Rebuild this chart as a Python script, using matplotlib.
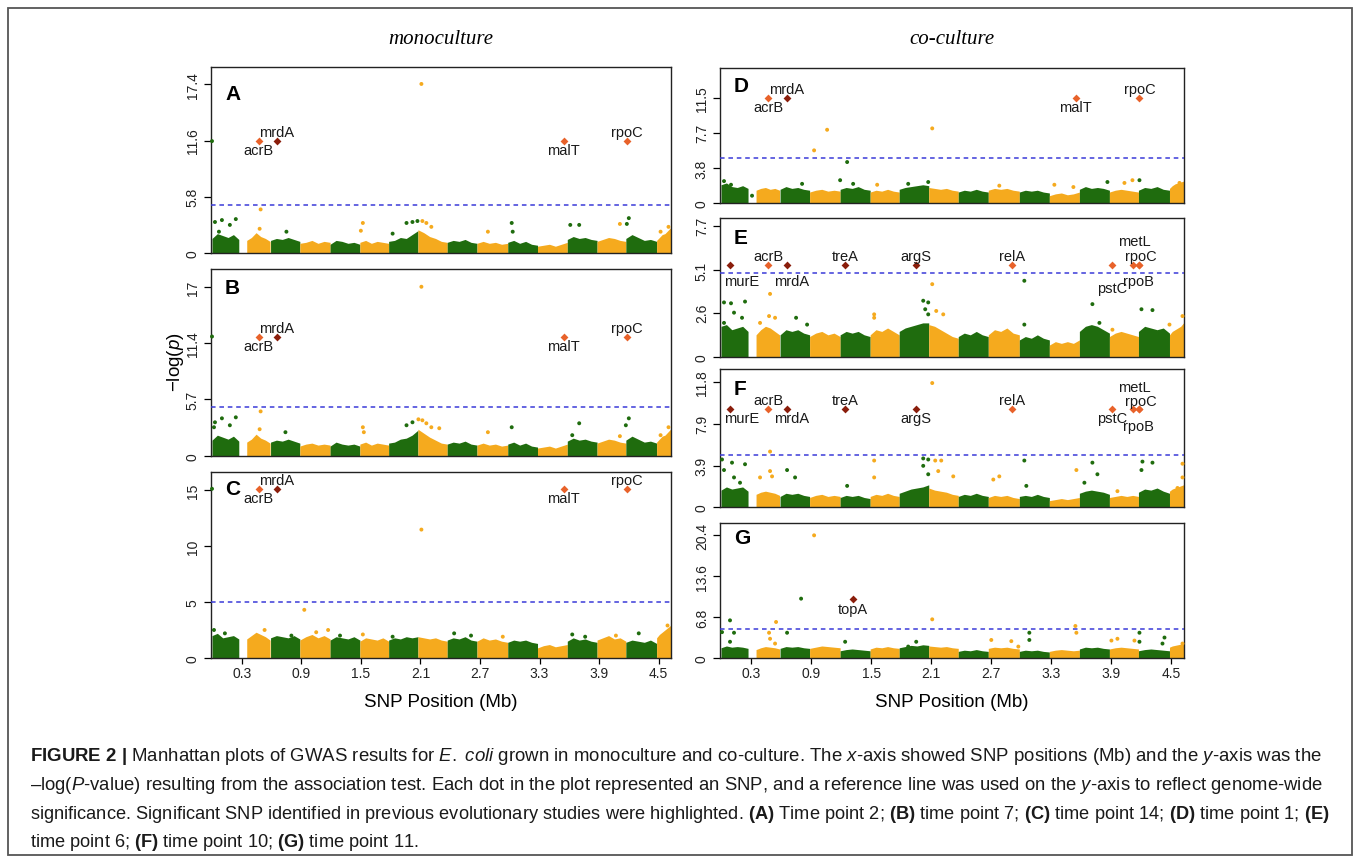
import numpy as np
import matplotlib
matplotlib.use("Agg")
import matplotlib.pyplot as plt
from matplotlib.patches import Rectangle
from matplotlib import font_manager

W, H = 1357, 862

installed = {f.name for f in font_manager.fontManager.ttflist}
cap_font = 'Liberation Sans Narrow' if 'Liberation Sans Narrow' in installed else 'Liberation Sans'

plt.rcParams['font.family'] = ['Liberation Sans', 'DejaVu Sans']
plt.rcParams['mathtext.fontset'] = 'custom'
plt.rcParams['mathtext.rm'] = cap_font
plt.rcParams['mathtext.it'] = cap_font + ':italic'
plt.rcParams['mathtext.bf'] = cap_font + ':bold'

GREEN = '#1f6c0e'
ORANGE = '#f5aa1e'
HL_LIGHT = '#e8622a'
HL_DARK = '#8a1d0b'

# SNP blocks along the genome (Mb), alternating green / orange
seg_start = [0.0, 0.35, 0.59, 0.885, 1.19, 1.49, 1.78, 2.075, 2.37, 2.67, 2.98, 3.28, 3.58, 3.88, 4.17, 4.48]
seg_end = [0.27, 0.585, 0.885, 1.19, 1.49, 1.78, 2.075, 2.37, 2.67, 2.98, 3.28, 3.58, 3.88, 4.17, 4.48, 4.62]

# upper envelope of the dense SNP cloud, 6 heights per block
env_A = [[1.5, 2.0, 1.8, 1.6, 1.9, 1.4], [1.3, 1.6, 2.1, 1.7, 1.5, 1.2], [1.3, 1.5, 1.4, 1.6, 1.4, 1.2],
         [1.0, 1.1, 1.3, 1.0, 1.2, 1.1], [0.9, 1.3, 1.2, 1.0, 1.1, 0.9], [1.1, 1.3, 1.0, 1.2, 1.1, 1.0],
         [1.2, 1.3, 1.6, 1.5, 1.9, 2.3], [2.4, 2.1, 1.7, 1.5, 1.2, 1.1], [1.1, 1.3, 1.2, 1.4, 1.1, 1.0],
         [1.0, 1.2, 1.0, 1.1, 0.9, 1.0], [1.1, 1.3, 1.0, 1.2, 0.9, 0.8], [0.7, 0.8, 0.9, 0.7, 0.9, 1.1],
         [1.4, 1.7, 1.5, 1.6, 1.4, 1.3], [1.2, 1.4, 1.6, 1.5, 1.3, 1.2], [1.5, 1.9, 1.6, 1.3, 1.4, 1.2],
         [1.3, 1.6, 1.9, 2.0, 2.3, 2.6]]
env_B = [[1.6, 2.1, 1.9, 1.7, 2.0, 1.5], [1.4, 1.7, 2.2, 1.8, 1.6, 1.3], [1.4, 1.6, 1.5, 1.7, 1.5, 1.3],
         [1.0, 1.2, 1.3, 1.1, 1.2, 1.1], [1.0, 1.4, 1.2, 1.1, 1.2, 1.0], [1.2, 1.4, 1.1, 1.3, 1.2, 1.1],
         [1.3, 1.4, 1.7, 1.8, 2.1, 2.6], [2.7, 2.3, 1.9, 1.6, 1.3, 1.2], [1.2, 1.4, 1.3, 1.5, 1.2, 1.1],
         [1.1, 1.3, 1.1, 1.2, 1.0, 1.1], [1.2, 1.4, 1.1, 1.3, 1.0, 0.9], [0.8, 0.9, 1.0, 0.8, 1.0, 1.2],
         [1.5, 1.8, 1.6, 1.7, 1.5, 1.4], [1.3, 1.5, 1.7, 1.6, 1.4, 1.3], [1.6, 2.0, 1.7, 1.4, 1.5, 1.3],
         [1.4, 1.7, 2.0, 2.1, 2.4, 2.7]]
env_C = [[2.0, 2.2, 1.8, 1.9, 2.0, 1.7], [1.7, 2.0, 2.3, 2.1, 1.9, 1.6], [1.8, 2.0, 1.9, 1.8, 2.0, 1.7],
         [1.6, 1.9, 2.1, 1.8, 2.0, 1.7], [1.6, 1.9, 1.8, 1.7, 1.9, 1.6], [1.5, 1.8, 1.7, 1.6, 1.8, 1.5],
         [1.6, 1.8, 1.7, 1.9, 1.8, 1.9], [1.9, 1.8, 1.7, 1.8, 1.6, 1.5], [1.6, 1.8, 1.7, 1.9, 1.6, 1.5],
         [1.5, 1.8, 1.6, 1.7, 1.5, 1.4], [1.4, 1.6, 1.5, 1.6, 1.4, 1.3], [0.9, 1.1, 1.2, 1.0, 1.1, 1.2],
         [1.5, 1.8, 1.6, 1.7, 1.5, 1.4], [1.6, 1.8, 2.0, 1.7, 1.8, 1.5], [1.4, 1.6, 1.5, 1.4, 1.6, 1.3],
         [1.8, 2.1, 2.3, 2.5, 2.7, 2.9]]
env_D = [[2.0, 2.2, 1.8, 1.7, 1.9, 1.6], [1.4, 1.6, 1.7, 1.5, 1.6, 1.4], [1.5, 1.8, 1.6, 1.7, 1.5, 1.4],
         [1.2, 1.4, 1.5, 1.3, 1.4, 1.3], [1.5, 1.7, 1.6, 1.8, 1.5, 1.4], [1.2, 1.4, 1.3, 1.5, 1.3, 1.2],
         [1.5, 1.7, 1.8, 1.9, 2.0, 1.9], [1.7, 1.6, 1.5, 1.6, 1.4, 1.3], [1.2, 1.4, 1.3, 1.5, 1.3, 1.2],
         [1.4, 1.6, 1.5, 1.6, 1.4, 1.3], [1.2, 1.4, 1.3, 1.4, 1.2, 1.1], [0.8, 1.0, 1.1, 0.9, 1.0, 1.2],
         [1.5, 1.8, 1.6, 1.7, 1.6, 1.4], [1.2, 1.4, 1.5, 1.4, 1.3, 1.2], [1.4, 1.7, 1.6, 1.8, 1.5, 1.4],
         [1.6, 1.9, 2.1, 2.2, 2.3, 2.4]]
env_E = [[1.8, 1.9, 1.6, 1.7, 1.8, 1.5], [1.3, 1.6, 1.8, 1.7, 1.5, 1.3], [1.3, 1.6, 1.5, 1.6, 1.4, 1.3],
         [1.2, 1.4, 1.5, 1.3, 1.4, 1.2], [1.3, 1.5, 1.4, 1.5, 1.3, 1.2], [1.3, 1.6, 1.5, 1.7, 1.5, 1.3],
         [1.5, 1.7, 1.8, 1.9, 2.0, 2.0], [1.9, 1.8, 1.6, 1.4, 1.2, 1.1], [1.2, 1.4, 1.3, 1.5, 1.3, 1.2],
         [1.3, 1.6, 1.5, 1.7, 1.4, 1.3], [1.0, 1.2, 1.1, 1.3, 1.1, 1.0], [0.7, 0.9, 0.8, 0.9, 0.8, 1.0],
         [1.5, 1.8, 1.9, 1.8, 1.6, 1.4], [1.2, 1.4, 1.5, 1.4, 1.3, 1.2], [1.5, 1.8, 1.7, 1.6, 1.7, 1.4],
         [1.3, 1.5, 1.6, 1.7, 1.8, 2.0]]
env_F = [[1.6, 1.9, 1.7, 1.8, 1.9, 1.5], [1.2, 1.4, 1.5, 1.4, 1.3, 1.1], [1.0, 1.3, 1.2, 1.3, 1.1, 1.0],
         [0.9, 1.1, 1.2, 1.0, 1.1, 1.0], [0.9, 1.1, 1.0, 1.1, 0.9, 0.8], [1.0, 1.2, 1.1, 1.3, 1.1, 1.0],
         [1.3, 1.5, 1.7, 1.8, 1.9, 2.1], [1.8, 1.6, 1.5, 1.4, 1.2, 1.1], [1.0, 1.2, 1.1, 1.3, 1.1, 1.0],
         [0.9, 1.1, 1.0, 1.1, 0.9, 0.8], [1.0, 1.1, 1.0, 1.2, 1.0, 0.9], [0.6, 0.7, 0.8, 0.7, 0.8, 0.9],
         [1.3, 1.5, 1.6, 1.5, 1.4, 1.2], [0.9, 1.0, 1.1, 1.0, 1.1, 1.0], [1.4, 1.7, 1.6, 1.8, 1.5, 1.3],
         [1.5, 1.7, 1.8, 1.9, 2.0, 2.1]]
env_G = [[1.7, 2.0, 1.8, 1.9, 1.8, 1.6], [1.4, 1.7, 1.9, 1.8, 1.7, 1.5], [1.6, 1.9, 1.8, 1.9, 1.7, 1.6],
         [1.6, 1.8, 2.0, 1.9, 1.8, 1.7], [1.2, 1.4, 1.5, 1.4, 1.3, 1.2], [1.5, 1.8, 1.7, 1.9, 1.7, 1.6],
         [1.7, 1.9, 2.1, 2.0, 2.2, 2.1], [2.0, 1.9, 1.8, 1.9, 1.7, 1.6], [1.1, 1.3, 1.2, 1.4, 1.2, 1.1],
         [1.6, 1.8, 1.7, 1.8, 1.6, 1.5], [1.1, 1.3, 1.2, 1.3, 1.1, 1.0], [1.1, 1.3, 1.4, 1.3, 1.2, 1.3],
         [1.5, 1.8, 1.7, 1.8, 1.6, 1.5], [1.5, 1.7, 1.8, 1.7, 1.6, 1.5], [1.2, 1.4, 1.5, 1.4, 1.3, 1.2],
         [1.8, 2.0, 2.1, 2.2, 2.3, 2.4]]

# individual SNPs standing out of the cloud (position Mb, -log p)
snp_A_x = [0.0, 0.03, 0.10, 0.24, 0.07, 0.18, 0.49, 0.48, 0.75, 1.52, 1.50, 1.82, 1.96, 2.02, 2.07, 2.11, 2.12,
           2.16, 2.21, 2.78, 3.02, 3.03, 3.61, 3.70, 4.11, 4.20, 4.18, 4.52, 4.60]
snp_A_y = [11.55, 3.2, 3.4, 3.5, 2.2, 2.9, 4.5, 2.5, 2.2, 3.1, 2.3, 2.0, 3.1, 3.2, 3.3, 17.45, 3.3,
           3.1, 2.7, 2.2, 3.1, 2.2, 2.9, 2.9, 3.0, 3.6, 3.0, 2.2, 2.7]
snp_B_x = [0.0, 0.03, 0.10, 0.24, 0.18, 0.02, 0.49, 0.48, 0.74, 1.52, 1.53, 1.96, 2.02, 2.08, 2.11, 2.12, 2.16,
           2.21, 2.29, 2.78, 3.02, 3.70, 3.63, 4.11, 4.20, 4.17, 4.60, 4.52]
snp_B_y = [12.05, 3.4, 3.8, 3.9, 3.1, 2.9, 4.5, 2.7, 2.4, 2.9, 2.4, 3.1, 3.4, 3.7, 17.07, 3.6, 3.3,
           2.9, 2.8, 2.4, 2.9, 3.3, 2.1, 2.0, 3.8, 3.1, 2.9, 2.1]
snp_C_x = [0.0, 0.02, 0.13, 0.53, 0.80, 0.93, 1.05, 1.17, 1.29, 1.52, 1.82, 2.11, 2.44, 2.61, 2.93, 3.63, 3.76,
           4.07, 4.30, 4.59]
snp_C_y = [15.1, 2.5, 2.2, 2.5, 2.0, 4.3, 2.3, 2.5, 2.0, 2.1, 1.9, 11.46, 2.2, 2.0, 1.9, 2.1, 1.9,
           2.0, 2.2, 2.9]
snp_D_x = [0.03, 0.10, 0.31, 0.81, 0.93, 1.06, 1.19, 1.26, 1.32, 1.56, 1.87, 2.07, 2.11, 2.78, 3.33, 3.52,
           3.86, 4.03, 4.11, 4.18, 4.58]
snp_D_y = [2.4, 2.0, 0.8, 2.1, 5.77, 8.03, 2.5, 4.49, 2.1, 2.0, 2.1, 2.3, 8.18, 1.9, 2.0, 1.75,
           2.3, 2.2, 2.5, 2.5, 2.2]
snp_E_x = [0.03, 0.10, 0.24, 0.13, 0.03, 0.21, 0.49, 0.48, 0.54, 0.39, 0.75, 0.86, 1.53, 1.53, 2.02, 2.07,
           2.04, 2.07, 2.11, 2.15, 2.22, 3.03, 3.03, 3.71, 3.78, 3.91, 4.20, 4.31, 4.48, 4.61]
snp_E_y = [3.2, 3.15, 3.25, 2.6, 2.0, 2.3, 3.7, 2.4, 2.3, 2.0, 2.3, 1.9, 2.5, 2.3, 3.3, 3.2,
           2.8, 2.5, 4.27, 2.7, 2.5, 4.47, 1.9, 3.1, 2.0, 1.6, 2.8, 2.75, 1.9, 2.4]
snp_F_x = [0.01, 0.03, 0.11, 0.24, 0.13, 0.19, 0.49, 0.49, 0.39, 0.51, 0.66, 0.74, 1.53, 1.53, 1.26, 2.02,
           2.07, 2.02, 2.11, 2.14, 2.20, 2.17, 2.07, 2.32, 2.72, 2.78, 3.03, 3.05, 3.55, 3.71, 3.76, 3.63,
           3.96, 4.20, 4.21, 4.31, 4.61, 4.61, 4.56]
snp_F_y = [4.5, 3.5, 4.2, 4.05, 2.8, 2.3, 5.25, 3.4, 2.8, 2.9, 3.5, 2.8, 4.4, 2.8, 2.0, 4.6,
           4.5, 3.9, 11.74, 4.4, 4.4, 3.4, 3.1, 2.9, 2.6, 2.9, 4.4, 2.0, 3.5, 4.2, 3.1, 2.3,
           1.5, 3.5, 4.3, 4.2, 4.1, 2.8, 1.8]
snp_G_x = [0.01, 0.09, 0.13, 0.09, 0.48, 0.49, 0.54, 0.55, 0.66, 0.80, 0.93, 1.24, 1.87, 1.95, 2.11, 2.70,
           2.90, 2.97, 3.08, 3.08, 3.54, 3.55, 3.90, 3.96, 4.13, 4.18, 4.18, 4.43, 4.41, 4.61]
snp_G_y = [4.3, 6.26, 4.2, 2.7, 4.2, 3.2, 2.4, 5.99, 4.2, 9.87, 20.4, 2.7, 1.9, 2.7, 6.43, 3.0,
           2.8, 1.9, 4.2, 3.0, 5.32, 4.2, 2.9, 3.2, 2.9, 4.2, 2.7, 3.4, 2.4, 2.4]

# genes highlighted in earlier evolution studies (position Mb)
gene_pos = {'murE': 0.088, 'acrB': 0.47, 'mrdA': 0.655, 'treA': 1.24, 'topA': 1.32, 'argS': 1.95,
            'relA': 2.905, 'malT': 3.545, 'pstC': 3.91, 'metL': 4.12, 'rpoB': 4.18, 'rpoC': 4.18}
dark_genes = ['murE', 'mrdA', 'treA', 'argS', 'topA']

genes_ABCD = ['acrB', 'mrdA', 'malT', 'rpoC']
genes_EF = ['murE', 'acrB', 'mrdA', 'treA', 'argS', 'relA', 'pstC', 'metL', 'rpoB', 'rpoC']
genes_G = ['topA']
gene_y = {'A': 11.55, 'B': 12.05, 'C': 15.1, 'D': 11.5, 'E': 5.41, 'F': 9.27, 'G': 9.87}

ymax = {'A': 19.2, 'B': 18.86, 'C': 16.6, 'D': 14.8, 'E': 8.15, 'F': 13.07, 'G': 22.45}
yticks = {'A': [0, 5.8, 11.6, 17.4], 'B': [0, 5.7, 11.4, 17], 'C': [0, 5, 10, 15],
          'D': [0, 3.8, 7.7, 11.5], 'E': [0, 2.6, 5.1, 7.7], 'F': [0, 3.9, 7.9, 11.8],
          'G': [0, 6.8, 13.6, 20.4]}
threshold = {'A': 4.93, 'B': 4.93, 'C': 5.0, 'D': 4.96, 'E': 4.92, 'F': 4.94, 'G': 4.88}
xtick_vals = [0.3, 0.9, 1.5, 2.1, 2.7, 3.3, 3.9, 4.5]

# label placement (pixel offsets dx, dy from the marker)
lab_off = {
    'A': {'acrB': (0, -9), 'mrdA': (0, 9), 'malT': (0, -9), 'rpoC': (0, 9)},
    'E': {'murE': (12, -16), 'acrB': (0, 9), 'mrdA': (5, -16), 'treA': (0, 9), 'argS': (0, 9),
          'relA': (0, 9), 'pstC': (0, -23), 'metL': (1, 24), 'rpoB': (-1, -16), 'rpoC': (1, 9)},
    'F': {'murE': (12, -9), 'acrB': (0, 9), 'mrdA': (5, -9), 'treA': (0, 9), 'argS': (0, -9),
          'relA': (0, 9), 'pstC': (0, -9), 'metL': (1, 22), 'rpoB': (-1, -17), 'rpoC': (1, 8)},
    'G': {'topA': (0, -10)},
}
lab_off['B'] = lab_off['A']
lab_off['C'] = lab_off['A']
lab_off['D'] = lab_off['A']


def px_rect(x0, y0, x1, y1):
    return [x0 / W, 1 - y1 / H, (x1 - x0) / W, (y1 - y0) / H]


panels = [
    ('A', px_rect(211, 68, 671, 254), env_A, snp_A_x, snp_A_y, genes_ABCD, False, 26),
    ('B', px_rect(211, 270, 671, 457), env_B, snp_B_x, snp_B_y, genes_ABCD, False, 18),
    ('C', px_rect(211, 473, 671, 659), env_C, snp_C_x, snp_C_y, genes_ABCD, True, 17),
    ('D', px_rect(720, 69, 1184, 204), env_D, snp_D_x, snp_D_y, genes_ABCD, False, 17),
    ('E', px_rect(720, 219, 1184, 358), env_E, snp_E_x, snp_E_y, genes_EF, False, 19),
    ('F', px_rect(720, 370, 1184, 508), env_F, snp_F_x, snp_F_y, genes_EF, False, 20),
    ('G', px_rect(720, 524, 1184, 659), env_G, snp_G_x, snp_G_y, genes_G, True, 14),
]


def block_color(x):
    i = np.searchsorted(seg_start, x, side='right') - 1
    return GREEN if i % 2 == 0 else ORANGE


fig = plt.figure(figsize=(W / 100, H / 100), dpi=100)

for name, rect, env, sx, sy, genes, show_x, letter_dy in panels:
    ax = fig.add_axes(rect)
    for i, (s, e) in enumerate(zip(seg_start, seg_end)):
        xs = np.linspace(s, e, len(env[i]))
        ax.fill_between(xs, 0, env[i], color=GREEN if i % 2 == 0 else ORANGE, lw=0, zorder=2)
    ax.scatter(sx, sy, s=8, c=[block_color(x) for x in sx], lw=0, zorder=3, clip_on=False)
    ax.axhline(threshold[name], color='#3a3ad8', lw=1.1, ls=(0, (3, 2.5)), zorder=4)

    gy = gene_y[name]
    for g in genes:
        gx = gene_pos[g]
        col = HL_DARK if g in dark_genes else HL_LIGHT
        ax.scatter([gx], [gy], marker='D', s=16, c=col, lw=0, zorder=5)
        dx, dy = lab_off[name][g]
        ax.annotate(g, (gx, gy), xytext=(dx, dy), textcoords='offset pixels',
                    ha='center', va='center', fontsize=10.5, color='#1a1a1a', zorder=6)

    ax.set_xlim(-0.01, 4.625)
    ax.set_ylim(0, ymax[name])
    ax.set_yticks(yticks[name])
    ax.set_yticklabels([f'{t:g}' for t in yticks[name]], rotation=90, va='center', fontsize=10, color='#222222')
    ax.tick_params(axis='y', length=5, width=0.9, pad=3)
    if show_x:
        ax.set_xticks(xtick_vals)
        ax.set_xticklabels([f'{t:g}' for t in xtick_vals], fontsize=10, color='#222222')
        ax.tick_params(axis='x', length=4, width=0.9, pad=2)
    else:
        ax.tick_params(axis='x', bottom=False, labelbottom=False)
    for sp in ax.spines.values():
        sp.set_linewidth(1.0)
        sp.set_color('#222222')
    ax.annotate(name, (0, 1), xycoords='axes fraction', xytext=(14, -letter_dy),
                textcoords='offset pixels', ha='left', va='center', fontsize=15,
                fontweight='bold', color='black', zorder=7)

# column titles and axis titles
fig.text(441 / W, 1 - 40 / H, 'monoculture', ha='center', va='center', fontsize=15,
         family='Liberation Serif', style='italic')
fig.text(952 / W, 1 - 40 / H, 'co-culture', ha='center', va='center', fontsize=15,
         family='Liberation Serif', style='italic')
fig.text(441 / W, 1 - 703 / H, 'SNP Position (Mb)', ha='center', va='center', fontsize=13.5)
fig.text(952 / W, 1 - 703 / H, 'SNP Position (Mb)', ha='center', va='center', fontsize=13.5)
fig.text(175 / W, 1 - 362 / H, '\u2212log($\\mathit{p}$)', ha='center', va='center', rotation=90,
         fontsize=13.5)

# caption
cap_lines = [
    r"$\mathbf{FIGURE\ 2\ |}$ Manhattan plots of GWAS results for $\mathit{E.}$ $\mathit{coli}$ grown in monoculture "
    r"and co-culture. The $\mathit{x}$-axis showed SNP positions (Mb) and the $\mathit{y}$-axis was the",
    "\u2013log($\\mathit{P}$-value) resulting from the association test. Each dot in the plot represented an SNP, "
    "and a reference line was used on the $\\mathit{y}$-axis to reflect genome-wide",
    r"significance. Significant SNP identified in previous evolutionary studies were highlighted. "
    r"$\mathbf{(A)}$ Time point 2; $\mathbf{(B)}$ time point 7; $\mathbf{(C)}$ time point 14; "
    r"$\mathbf{(D)}$ time point 1; $\mathbf{(E)}$",
    r"time point 6; $\mathbf{(F)}$ time point 10; $\mathbf{(G)}$ time point 11.",
]
cap_y = [757, 786, 815, 843]
cap_right = [1322, 1320, 1325, None]
cap_texts = [fig.text(30 / W, 1 - y / H, t, ha='left', va='center', fontsize=11, family=cap_font,
                      color='#1a1a1a') for t, y in zip(cap_lines, cap_y)]

# fit each caption line to the reference line length
fig.canvas.draw()
r = fig.canvas.get_renderer()
size = 11
for t, right in zip(cap_texts, cap_right):
    if right is not None:
        w = t.get_window_extent(r).width
        size = 11 * (right - 30) / w
    t.set_fontsize(size)

fig.add_artist(Rectangle((8 / W, 1 - 856 / H), 1344 / W, 847 / H, transform=fig.transFigure,
                         fill=False, edgecolor='#555555', lw=1.3))

fig.savefig('out.png', dpi=100)
